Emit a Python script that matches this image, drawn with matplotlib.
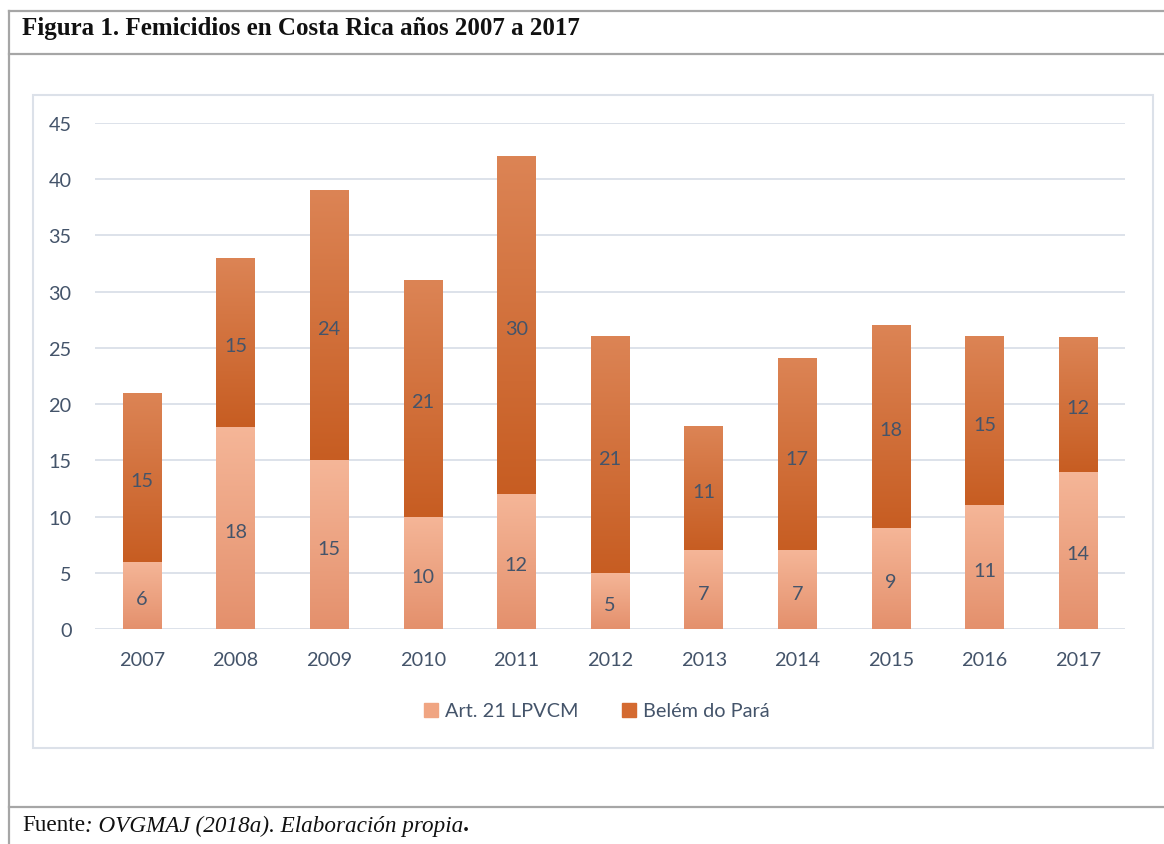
import matplotlib.pyplot as plt
import numpy as np
from matplotlib.colors import LinearSegmentedColormap
from matplotlib.patches import Rectangle
from matplotlib.lines import Line2D

years = ["2007", "2008", "2009", "2010", "2011", "2012", "2013", "2014", "2015", "2016", "2017"]
art21 = [6, 18, 15, 10, 12, 5, 7, 7, 9, 11, 14]
belem = [15, 15, 24, 21, 30, 21, 11, 17, 18, 15, 12]
series_names = ["Art. 21 LPVCM", "Belém do Pará"]

W, H = 1164, 845
txt = "#44546A"
grid_c = "#DDE2EA"
frame_c = "#A6A6A6"
fs = 14.3

light_cm = LinearSegmentedColormap.from_list("light", ["#E4906C", "#F5B698"])
dark_cm = LinearSegmentedColormap.from_list("dark", ["#C75D22", "#DC8455"])

plt.rcParams["font.family"] = ["Lato", "DejaVu Sans"]

fig = plt.figure(figsize=(W / 100, H / 100), dpi=100)


def fx(px):
    return px / W


def fy(py):
    return 1 - py / H


# outer table-like frame
for (x0, y0, x1, y1) in [(9, 12, W, 12), (9, 55, W, 55), (9, 808, W, 808), (9, 12, 9, H)]:
    fig.add_artist(Line2D([fx(x0), fx(x1)], [fy(y0), fy(y1)], color=frame_c, lw=1.6,
                          transform=fig.transFigure))

# chart box
fig.add_artist(Rectangle((fx(33), fy(749)), fx(1153) - fx(33), fy(96) - fy(749),
                         transform=fig.transFigure, fill=False, edgecolor="#DCE1E9", lw=1.5))

ax = fig.add_axes([fx(95), fy(630), fx(1125) - fx(95), fy(124) - fy(630)])
x = np.arange(len(years))
bw = 0.41
b1 = ax.bar(x, art21, bw, color="#F0A582", label=series_names[0], zorder=2)
b2 = ax.bar(x, belem, bw, bottom=art21, color="#D46A30", label=series_names[1], zorder=2)

grad = np.linspace(0, 1, 256).reshape(-1, 1)
for bars, cm in [(b1, light_cm), (b2, dark_cm)]:
    for p in bars:
        x0, y0 = p.get_x(), p.get_y()
        ax.imshow(grad, extent=[x0, x0 + p.get_width(), y0, y0 + p.get_height()],
                  origin="lower", cmap=cm, aspect="auto", zorder=3, interpolation="bilinear")
        p.set_visible(False)

for i in range(len(years)):
    ax.text(x[i], art21[i] / 2 - 0.3, str(art21[i]), ha="center", va="center",
            fontsize=fs, color=txt, zorder=4)
    ax.text(x[i], art21[i] + belem[i] / 2 - 0.3, str(belem[i]), ha="center", va="center",
            fontsize=fs, color=txt, zorder=4)

ax.set_xlim(-0.5, len(years) - 0.5)
ax.set_ylim(0, 45)
ax.set_yticks(np.arange(0, 46, 5))
ax.set_xticks(x)
ax.set_xticklabels(years)
ax.tick_params(axis="both", length=0, labelsize=fs, labelcolor=txt)
ax.tick_params(axis="y", pad=17)
ax.tick_params(axis="x", pad=15.5)
ax.grid(axis="y", color=grid_c, lw=1.4, zorder=0)
for s in ax.spines.values():
    s.set_visible(False)
ax.set_facecolor("none")

handles = [Rectangle((0, 0), 1, 1, color="#F0A582"), Rectangle((0, 0), 1, 1, color="#D46A30")]
fig.legend(handles, series_names, loc="center", bbox_to_anchor=(fx(597), fy(712)), ncol=2,
           frameon=False, fontsize=fs, labelcolor=txt, handlelength=0.7, handleheight=0.7,
           handletextpad=0.35, columnspacing=2.2)

# title
fig.text(fx(22), fy(29), "Figura 1. Femicidios en Costa Rica años 2007 a 2017",
         fontsize=18, fontweight="bold", family="Liberation Serif", va="center", ha="left",
         color="#111111")

# footer with mixed styles
fig.canvas.draw()
r = fig.canvas.get_renderer()
parts = [("Fuente", "normal", "normal"), (": OVGMAJ (2018a). Elaboración propia", "italic", "normal"),
         (".", "italic", "bold")]
xpos = 22
for s, st, wt in parts:
    t = fig.text(fx(xpos), fy(826), s, fontsize=16.7, family="Liberation Serif", style=st,
                 fontweight=wt, va="center", ha="left", color="#111111")
    xpos += t.get_window_extent(r).width

fig.savefig("out.png", dpi=100)
